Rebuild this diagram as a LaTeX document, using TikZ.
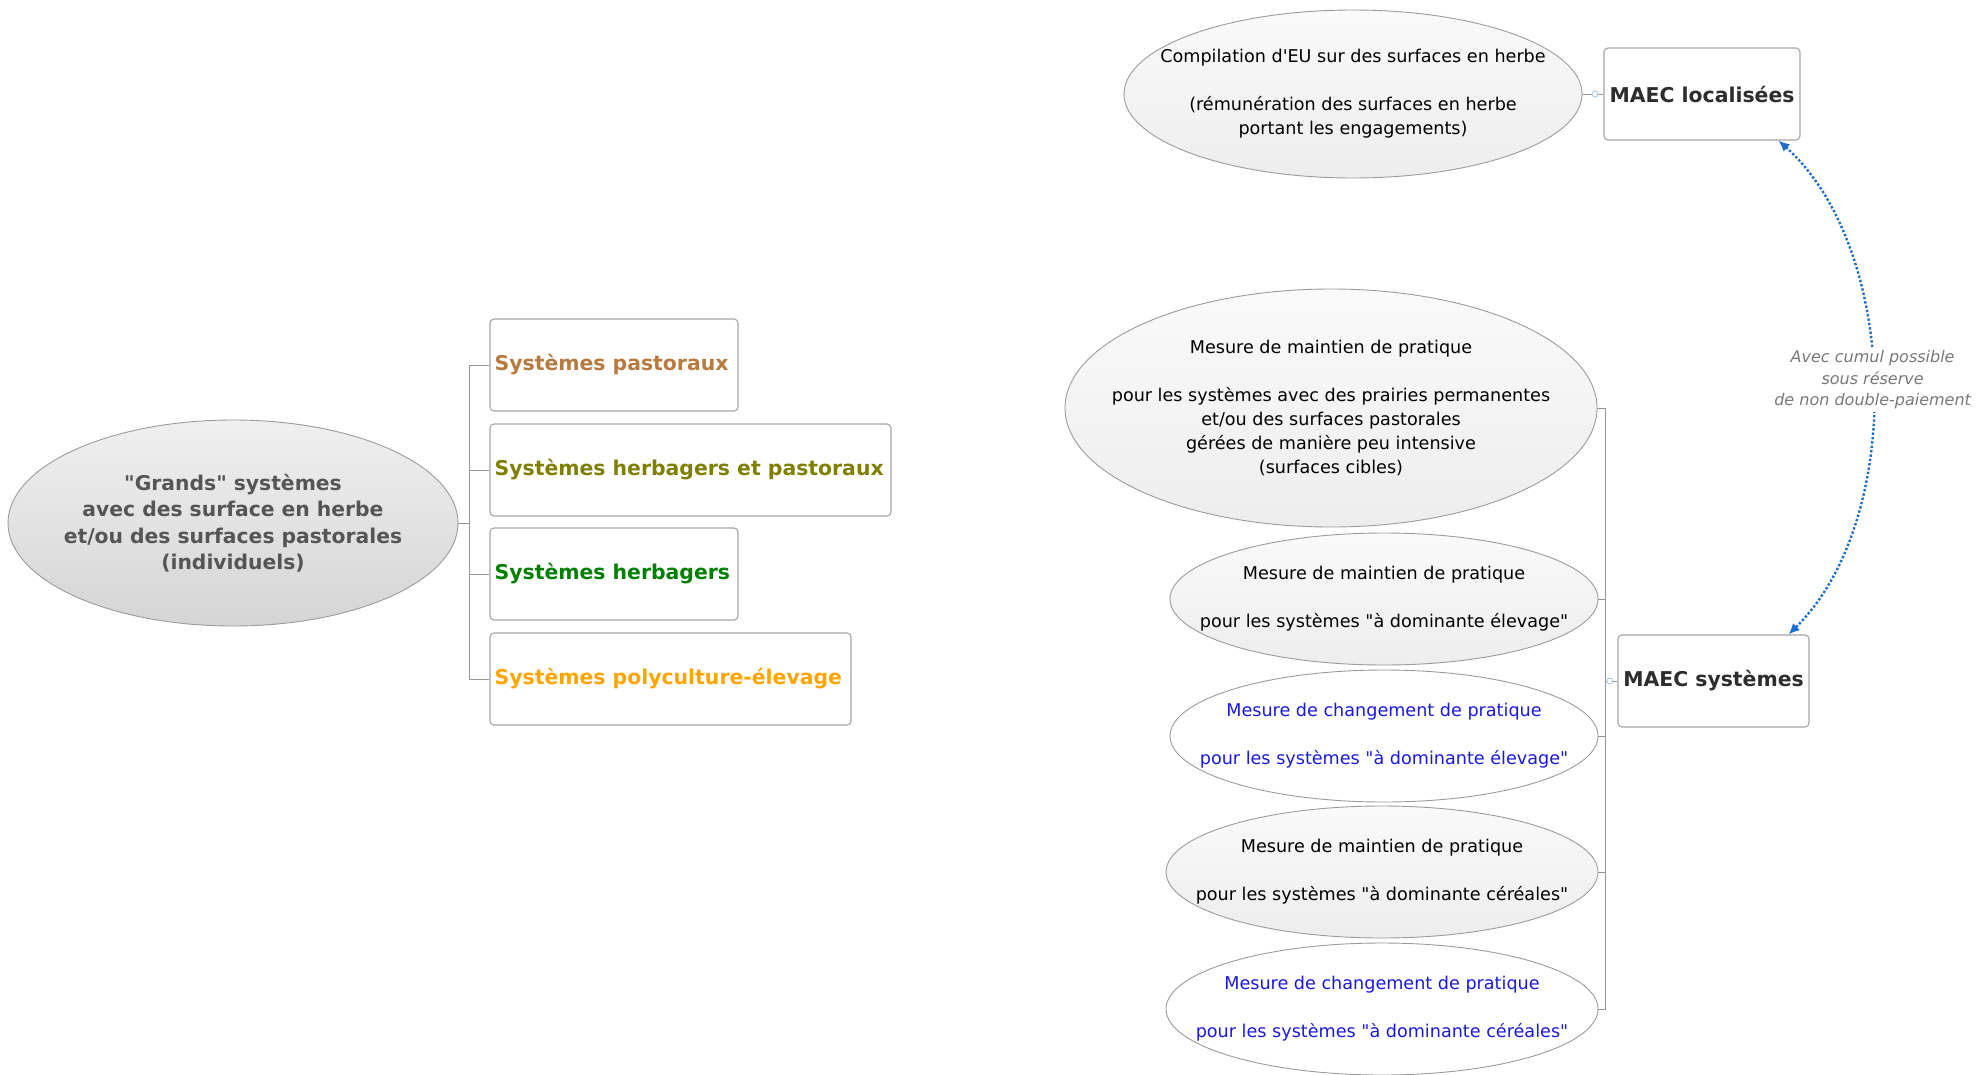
\documentclass[tikz,border=0pt]{standalone}
\usepackage{fontspec}
\setmainfont{DejaVu Sans}[Ligatures=TeXOff]
\usetikzlibrary{shapes.geometric,arrows.meta}
\definecolor{brd}{RGB}{155,155,155}
\definecolor{boxbrd}{RGB}{165,165,165}
\definecolor{conncol}{RGB}{150,150,150}
\definecolor{bluetx}{RGB}{25,25,225}
\definecolor{darkgraytx}{RGB}{85,85,85}
\definecolor{maectx}{RGB}{45,45,45}
\definecolor{brownc}{RGB}{184,122,62}
\definecolor{olivec}{RGB}{128,128,0}
\definecolor{greenc}{RGB}{0,128,0}
\definecolor{orangec}{RGB}{255,165,0}
\definecolor{arrblue}{RGB}{30,110,205}
\definecolor{dotblue}{RGB}{165,195,225}
\definecolor{lblgray}{RGB}{120,120,120}
\begin{document}
\begin{tikzpicture}[x=1pt,y=-1pt,
  ell/.style={ellipse, draw=brd, line width=0.9pt, inner sep=0pt},
  gell/.style={ell, top color=gray!4, bottom color=gray!14},
  well/.style={ell, fill=white},
  txt/.style={font=\fontsize{17.6}{24}\selectfont, align=center, text=black, inner sep=0pt},
  btxt/.style={txt, text=bluetx},
  systbox/.style={rectangle, rounded corners=4pt, draw=boxbrd, line width=1.1pt, fill=white, minimum height=92pt, inner sep=0pt},
  boxtxt/.style={font=\fontsize{20.4}{26}\selectfont\bfseries, anchor=west, xshift=5pt, inner sep=0pt},
  maecbox/.style={systbox, font=\fontsize{20.4}{26}\selectfont\bfseries, text=maectx},
  conn/.style={draw=conncol, line width=1pt},
  dotc/.style={circle, draw=dotblue, fill=white, line width=0.8pt, inner sep=0pt, minimum size=6pt},
  darr/.style={draw=arrblue, line width=2.4pt, dotted, {Latex[length=11pt,width=10pt]}-{Latex[length=11pt,width=10pt]}},
  lbl/.style={font=\fontsize{16}{21.5}\selectfont\itshape, text=lblgray, fill=white, align=center, inner sep=3pt}
]
\useasboundingbox (0,0) rectangle (1977,1074);

% left part
\node[ell, top color=gray!12, bottom color=gray!33, minimum width=450pt, minimum height=206pt,
  label={[txt, font=\fontsize{20.3}{26.5}\selectfont\bfseries, text=darkgraytx]center:{"Grands" systèmes\\avec des surface en herbe\\et/ou des surfaces pastorales\\(individuels)}}] (g) at (233,523) {};

\node[systbox, minimum width=248pt, label={[boxtxt, text=brownc]west:{Systèmes pastoraux}}] (b1) at (614,365) {};
\node[systbox, minimum width=401pt, label={[boxtxt, text=olivec]west:{Systèmes herbagers et pastoraux}}] (b2) at (690.5,470) {};
\node[systbox, minimum width=248pt, label={[boxtxt, text=greenc]west:{Systèmes herbagers}}] (b3) at (614,574) {};
\node[systbox, minimum width=361pt, label={[boxtxt, text=orangec]west:{Systèmes polyculture-élevage}}] (b4) at (670.5,679) {};

\coordinate (lt) at (469,523);
\draw[conn] (g.east) -- (lt);
\draw[conn] (lt) |- (b1.west);
\draw[conn] (lt) |- (b2.west);
\draw[conn] (lt) |- (b3.west);
\draw[conn] (lt) |- (b4.west);

% top right
\node[gell, minimum width=458pt, minimum height=168pt,
  label={[txt]center:{Compilation d'EU sur des surfaces en herbe\\[24pt](rémunération des surfaces en herbe\\portant les engagements)}}] (eu) at (1353,94) {};
\node[maecbox, minimum width=196pt] (ml) at (1702,94) {MAEC localisées};
\draw[conn] (eu.east) -- node[dotc, pos=0.6] (c1) {} (ml.west);

% systems
\node[gell, minimum width=532pt, minimum height=238pt,
  label={[txt]center:{Mesure de maintien de pratique\\[24pt]pour les systèmes avec des prairies permanentes\\et/ou des surfaces pastorales\\gérées de manière peu intensive\\(surfaces cibles)}}] (m1) at (1331,408) {};
\node[gell, minimum width=428pt, minimum height=132pt,
  label={[txt]center:{Mesure de maintien de pratique\\[24pt]pour les systèmes "à dominante élevage"}}] (m2) at (1384,599) {};
\node[well, minimum width=428pt, minimum height=132pt,
  label={[btxt]center:{Mesure de changement de pratique\\[24pt]pour les systèmes "à dominante élevage"}}] (m3) at (1384,736) {};
\node[gell, minimum width=432pt, minimum height=132pt,
  label={[txt]center:{Mesure de maintien de pratique\\[24pt]pour les systèmes "à dominante céréales"}}] (m4) at (1382,872) {};
\node[well, minimum width=432pt, minimum height=132pt,
  label={[btxt]center:{Mesure de changement de pratique\\[24pt]pour les systèmes "à dominante céréales"}}] (m5) at (1382,1009) {};

\node[maecbox, minimum width=191pt] (ms) at (1713.5,681) {MAEC systèmes};

\coordinate (tr) at (1605,681);
\draw[conn] (m1.east) -| (tr);
\draw[conn] (m2.east) -| (tr);
\draw[conn] (m3.east) -| (tr);
\draw[conn] (m4.east) -| (tr);
\draw[conn] (m5.east) -| (tr);
\draw[conn] (tr) -- node[dotc, pos=0.38] (c2) {} (ms.west);

% dotted double arrow
\draw[darr] ([xshift=-22pt]ml.south east) .. controls (1900,250) and (1905,520) .. ([xshift=-21pt]ms.north east)
  node[lbl, pos=0.49] (lab) {Avec cumul possible\\sous réserve\\de non double-paiement};
\end{tikzpicture}
\end{document}
